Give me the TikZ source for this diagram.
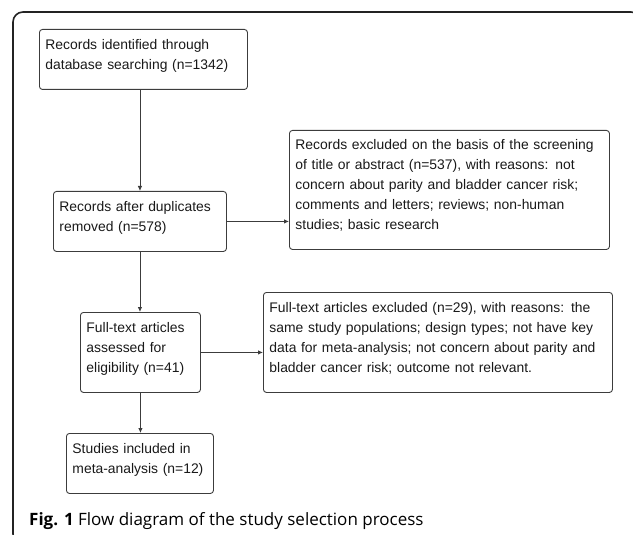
\documentclass[tikz,border=0pt]{standalone}
\usepackage{fontspec}
\setmainfont{Liberation Sans}
\newfontfamily\captionfont{Open Sans}
\usetikzlibrary{arrows.meta}
\definecolor{frame_grey}{RGB}{35, 35, 35}
\definecolor{box_grey}{RGB}{60, 60, 60}
\tikzset{
  flowbox/.style={draw=box_grey, line width=0.9pt, rounded corners=3pt, anchor=north west, align=left, inner xsep=6pt, inner ysep=3pt, text=black!90, font=\fontsize{13.9}{20}\selectfont,
    execute at begin node={\hyphenpenalty=10000\relax}, execute at end node={\rule[-10pt]{0pt}{10pt}}},
  flowarrow/.style={draw=box_grey, line width=0.9pt, -{Latex[length=5pt, width=4.5pt]}}
}

\begin{document}
\begin{tikzpicture}[x=1pt, y=-1pt]
  \useasboundingbox (0,0) rectangle (633,535);
  \clip (0,0) rectangle (633,535);
  \draw[frame_grey, line width=1.6pt, rounded corners=10pt] (13,12) rectangle (641,544);

  % main column
  \node[flowbox, text width=196pt, minimum height=60pt] (identified) at (39,29) {Records identified through\\database searching (n=1342)};
  \node[flowbox, text width=161pt, minimum height=60pt] (dedup) at (53,191) {Records after duplicates\\removed (n=578)};
  \node[flowbox, text width=108pt, minimum height=80pt] (fulltext) at (80,312) {Full-text articles\\assessed for\\eligibility (n=41)};
  \node[flowbox, text width=135pt, minimum height=60pt] (included) at (66,433) {Studies included in\\meta-analysis (n=12)};

  % exclusions
  \node[flowbox, text width=308pt, minimum height=119pt] (screenexcl) at (289,130) {Records excluded on the basis of the screening\\of title or abstract (n=537), with reasons: not\\concern about parity and bladder cancer risk;\\comments and letters; reviews; non-human\\studies; basic research};
  \node[flowbox, text width=337pt, minimum height=100pt] (fulltextexcl) at (263,292) {Full-text articles excluded (n=29), with reasons: the\\same study populations; design types; not have key\\data for meta-analysis; not concern about parity and\\bladder cancer risk; outcome not relevant.};

  % arrows
  \draw[flowarrow] (dedup.north |- identified.south) -- (dedup.north);
  \draw[flowarrow] (dedup.east) -- (dedup.east -| screenexcl.west);
  \draw[flowarrow] (dedup.south) -- (dedup.south |- fulltext.north);
  \draw[flowarrow] (fulltext.east) -- (fulltext.east -| fulltextexcl.west);
  \draw[flowarrow] (fulltext.south) -- (fulltext.south |- included.north);

  \node[anchor=base west, inner sep=0pt, font=\captionfont\fontsize{17}{20}\selectfont] (caption) at (29,525) {\textbf{Fig. 1} Flow diagram of the study selection process};
\end{tikzpicture}
\end{document}
